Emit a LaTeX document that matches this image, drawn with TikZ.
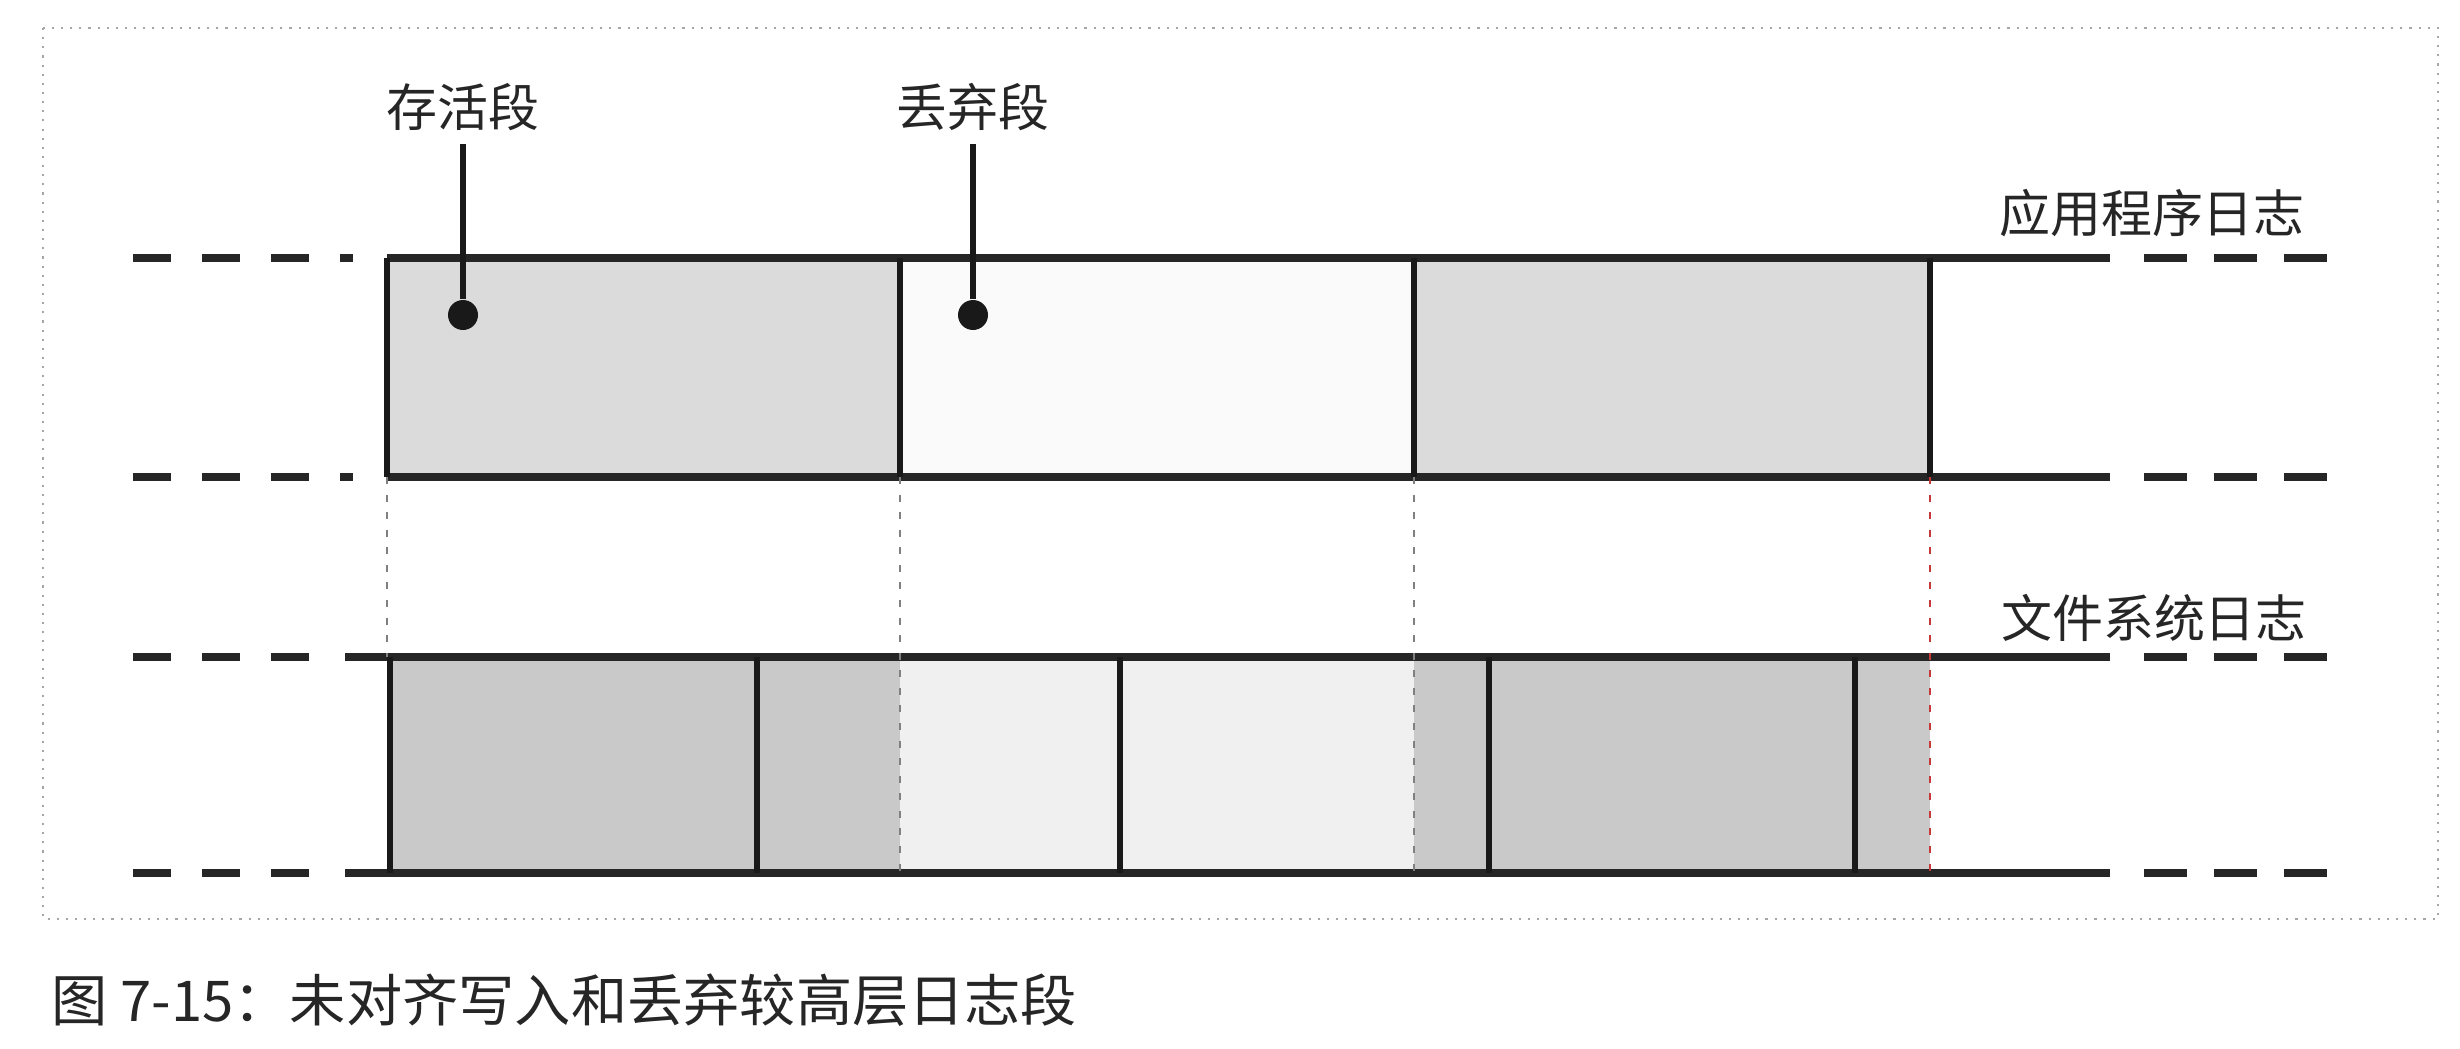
\documentclass[tikz,border=0pt]{standalone}
\usepackage{fontspec}
\newfontfamily\cjk{Noto Sans CJK SC}
\tikzset{
  logline/.style={line width=2pt, black!85},
  logend/.style={line width=2pt, black!85, dash pattern=on 0.38cm off 0.31cm},
  segedge/.style={line width=1.5pt, black!90},
  guide/.style={gray, line width=0.5pt, dash pattern=on 2pt off 3pt},
  seglabel/.style={font=\cjk\fontsize{14.5}{16}\selectfont, text=black!85, inner sep=0pt},
  pin/.style={circle, fill=black!90, inner sep=0pt, minimum size=3mm},
}
\begin{document}
\begin{tikzpicture}
\useasboundingbox (0,0) rectangle (24.6,-10.48);
% frame
\draw[gray!70, dotted, line width=0.6pt] (0.43,-0.28) rectangle (24.38,-9.19);

% application log
\fill[gray!28] (3.87,-2.58) rectangle (9.00,-4.77);
\fill[gray!4] (9.00,-2.58) rectangle (14.14,-4.77);
\fill[gray!28] (14.14,-2.58) rectangle (19.30,-4.77);
\draw[logline] (3.87,-2.58) -- (21.10,-2.58);
\draw[logline] (3.87,-4.77) -- (21.10,-4.77);
\foreach \x in {3.87,9.00,14.14,19.30}
  \draw[segedge] (\x,-2.58) -- (\x,-4.77);
\draw[logend] (1.33,-2.58) -- (3.53,-2.58);
\draw[logend] (1.33,-4.77) -- (3.53,-4.77);
\draw[logend, dash pattern=on 0.43cm off 0.27cm] (21.44,-2.58) -- (23.28,-2.58);
\draw[logend, dash pattern=on 0.43cm off 0.27cm] (21.44,-4.77) -- (23.28,-4.77);
\node[seglabel] (applog) at (21.52,-2.13) {应用程序日志};

% file system log
\fill[gray!42] (3.90,-6.57) rectangle (9.00,-8.73);
\fill[gray!12] (9.00,-6.57) rectangle (14.14,-8.73);
\fill[gray!42] (14.14,-6.57) rectangle (19.30,-8.73);
\draw[logline] (3.45,-6.57) -- (21.10,-6.57);
\draw[logline] (3.45,-8.73) -- (21.10,-8.73);
\foreach \x in {3.90,7.57,11.20,14.89,18.55}
  \draw[segedge] (\x,-6.57) -- (\x,-8.73);
\draw[logend] (1.33,-6.57) -- (3.40,-6.57);
\draw[logend] (1.33,-8.73) -- (3.40,-8.73);
\draw[logend, dash pattern=on 0.43cm off 0.27cm] (21.44,-6.57) -- (23.28,-6.57);
\draw[logend, dash pattern=on 0.43cm off 0.27cm] (21.44,-8.73) -- (23.28,-8.73);
\node[seglabel] (fslog) at (21.54,-6.18) {文件系统日志};

% alignment guides
\draw[guide] (3.87,-4.77) -- (3.87,-6.57);
\draw[guide] (9.00,-4.77) -- (9.00,-8.73);
\draw[guide] (14.14,-4.77) -- (14.14,-8.73);
\draw[guide, red!55!gray] (19.30,-4.77) -- (19.30,-8.73);

% segment labels
\node[seglabel] (surv) at (4.63,-1.07) {存活段};
\node[seglabel] (drop) at (9.73,-1.07) {丢弃段};
\node[pin] (survdot) at (4.63,-3.15) {};
\node[pin] (dropdot) at (9.73,-3.15) {};
\draw[segedge, shorten <=1.3mm] (surv) -- (survdot);
\draw[segedge, shorten <=1.3mm] (drop) -- (dropdot);

% caption
\node[seglabel, font=\cjk\fontsize{16}{18}\selectfont, anchor=west] (caption) at (0.51,-10.0)
  {图 7-15：未对齐写入和丢弃较高层日志段};
\end{tikzpicture}
\end{document}
